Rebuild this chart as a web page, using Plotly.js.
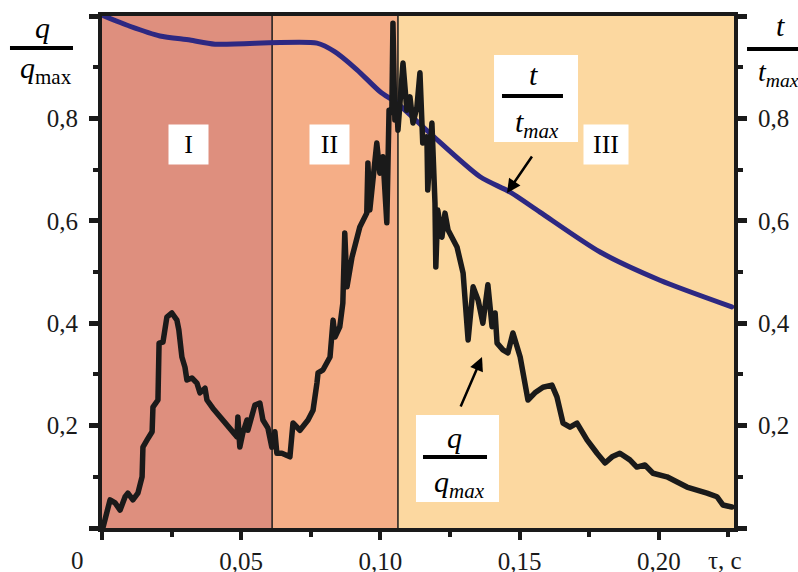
<!DOCTYPE html>
<html>
<head>
<meta charset="utf-8">
<script src="https://cdn.plot.ly/plotly-3.0.1.min.js"></script>
<style>
html,body{margin:0;padding:0;background:#fff;}
#chart{width:798px;height:572px;}
.scatterlayer path.js-line{stroke-linejoin:round;stroke-linecap:round;}
</style>
</head>
<body>
<div id="chart"></div>
<script>
// time, s  (q / q_max curve)
const qTime = [0.0004,0.0018,0.0029,0.0047,0.0065,0.0083,0.0093,0.0111,0.0129,0.0144,0.0147,0.0162,0.0180,0.0183,0.0201,0.0205,0.0219,0.0233,0.0251,0.0269,0.0276,0.0287,0.0298,0.0305,0.0323,0.0341,0.0352,0.0370,0.0377,0.0398,0.0434,0.0467,0.0485,0.0488,0.0495,0.0506,0.0521,0.0524,0.0539,0.0549,0.0567,0.0578,0.0596,0.0610,0.0621,0.0628,0.0646,0.0675,0.0686,0.0711,0.0740,0.0758,0.0772,0.0776,0.0794,0.0819,0.0830,0.0837,0.0854,0.0865,0.0872,0.0880,0.0898,0.0926,0.0951,0.0955,0.0962,0.0973,0.0987,0.0998,0.1009,0.1023,0.1031,0.1041,0.1045,0.1052,0.1059,0.1063,0.1070,0.1081,0.1095,0.1106,0.1117,0.1131,0.1142,0.1152,0.1167,0.1170,0.1185,0.1196,0.1199,0.1206,0.1221,0.1232,0.1243,0.1275,0.1297,0.1315,0.1333,0.1351,0.1368,0.1386,0.1401,0.1412,0.1419,0.1440,0.1458,0.1476,0.1502,0.1530,0.1555,0.1584,0.1616,0.1634,0.1656,0.1681,0.1706,0.1742,0.1778,0.1807,0.1832,0.1860,0.1896,0.1921,0.1950,0.1979,0.2029,0.2101,0.2173,0.2209,0.2230,0.2262];
const qValue = [0.002,0.035,0.055,0.049,0.035,0.061,0.068,0.055,0.068,0.100,0.158,0.172,0.188,0.236,0.250,0.361,0.363,0.412,0.420,0.406,0.387,0.334,0.314,0.289,0.293,0.283,0.264,0.273,0.250,0.234,0.211,0.191,0.178,0.217,0.158,0.186,0.211,0.191,0.217,0.240,0.244,0.211,0.195,0.158,0.188,0.146,0.146,0.139,0.205,0.191,0.211,0.230,0.283,0.303,0.309,0.334,0.406,0.373,0.393,0.439,0.576,0.471,0.529,0.588,0.615,0.713,0.621,0.686,0.752,0.693,0.725,0.596,0.816,0.812,0.986,0.797,0.822,0.777,0.842,0.908,0.816,0.842,0.791,0.822,0.889,0.752,0.764,0.660,0.791,0.635,0.510,0.621,0.568,0.615,0.582,0.549,0.498,0.367,0.471,0.445,0.400,0.475,0.393,0.420,0.361,0.348,0.342,0.381,0.334,0.250,0.264,0.275,0.279,0.256,0.205,0.197,0.205,0.172,0.146,0.127,0.139,0.146,0.133,0.119,0.123,0.107,0.100,0.080,0.068,0.061,0.045,0.041];

// time, s  (t / t_max curve)
const tTime = [0.0007,0.0100,0.0208,0.0316,0.0406,0.0772,0.0837,0.0916,0.0999,0.1059,0.1178,0.1358,0.1466,0.1573,0.1789,0.2004,0.2262];
const tValue = [1.000,0.980,0.961,0.953,0.945,0.947,0.930,0.895,0.852,0.830,0.771,0.686,0.656,0.617,0.539,0.484,0.432];

// stage boundaries, s
const stageBounds = [0, 0.0611, 0.1063, 0.227];
const stageNames = ["I", "II", "III"];
const stageColors = ["#de8f7e", "#f5ae87", "#fcd8a0"];

// ticks
const xTickVals = [0, 0.05, 0.10, 0.15, 0.20];
const xTickText = ["", "0,05", "0,10", "0,15", "0,20"];
const xMinorVals = [0.025, 0.075, 0.125, 0.175, 0.225];
const yTickVals = [0, 0.2, 0.4, 0.6, 0.8, 1.0];
const yTickText = ["", "0,2", "0,4", "0,6", "0,8", ""];
const yMinorVals = [0.1, 0.3, 0.5, 0.7, 0.9];

const ink = "#1a1a1a";
const serif = "Liberation Serif";
const tickFont = {family: serif, size: 25, color: ink};

const traces = [
  {x: tTime, y: tValue, type: "scatter", mode: "lines", yaxis: "y",
   line: {color: "#2d2882", width: 5, shape: "spline", smoothing: 0.7}, hoverinfo: "skip"},
  {x: qTime, y: qValue, type: "scatter", mode: "lines", yaxis: "y2",
   line: {color: ink, width: 5.5}, hoverinfo: "skip"}
];

const shapes = [];
for (let i = 0; i < 3; i++) {
  shapes.push({type: "rect", xref: "x", yref: "y", x0: stageBounds[i], x1: stageBounds[i+1], y0: 0, y1: 1,
    fillcolor: stageColors[i], line: {width: 0}, layer: "below"});
}
for (let i = 1; i < 3; i++) {
  shapes.push({type: "line", xref: "x", yref: "y", x0: stageBounds[i], x1: stageBounds[i], y0: 0, y1: 1,
    line: {color: ink, width: 1.5}, layer: "below"});
}
// label boxes and fraction bars
shapes.push({type: "rect", xref: "paper", yref: "paper", x0: 0.6203, x1: 0.7532, y0: 0.7539, y1: 0.9238, fillcolor: "#fff", line: {width: 0}});
shapes.push({type: "line", xref: "paper", yref: "paper", x0: 0.6329, x1: 0.7294, y0: 0.8438, y1: 0.8438, line: {color: "#000", width: 4}});
shapes.push({type: "rect", xref: "paper", yref: "paper", x0: 0.4968, x1: 0.6282, y0: 0.0508, y1: 0.2207, fillcolor: "#fff", line: {width: 0}});
shapes.push({type: "line", xref: "paper", yref: "paper", x0: 0.5079, x1: 0.6092, y0: 0.1387, y1: 0.1387, line: {color: "#000", width: 4}});
shapes.push({type: "line", xref: "paper", yref: "paper", x0: -0.1456, x1: -0.0459, y0: 0.9375, y1: 0.9375, line: {color: "#000", width: 4}});
shapes.push({type: "line", xref: "paper", yref: "paper", x0: 1.0206, x1: 1.1013, y0: 0.9355, y1: 0.9355, line: {color: "#000", width: 4}});

const annFont = (s) => ({family: serif, size: s, color: "#000"});
const annotations = [];
const stageCenters = [0.1369, 0.36, 0.7975];
const stageBoxW = [39, 39, 44];
for (let i = 0; i < 3; i++) {
  annotations.push({xref: "paper", yref: "paper", x: stageCenters[i], y: 0.749, text: stageNames[i],
    showarrow: false, bgcolor: "#fff", width: stageBoxW[i], height: 39, borderpad: 0,
    font: annFont(26), xanchor: "center", yanchor: "middle"});
}
annotations.push(
  {xref: "paper", yref: "paper", x: 0.682, y: 0.8848, text: "<i>t</i>", showarrow: false, font: annFont(30), xanchor: "center", yanchor: "middle"},
  {xref: "paper", yref: "paper", x: 0.688, y: 0.790, text: "<i>t<sub>max</sub></i>", showarrow: false, font: annFont(30), xanchor: "center", yanchor: "middle"},
  {xref: "paper", yref: "paper", x: 0.5585, y: 0.1777, text: "<i>q</i>", showarrow: false, font: annFont(30), xanchor: "center", yanchor: "middle"},
  {xref: "paper", yref: "paper", x: 0.566, y: 0.086, text: "<i>q<sub>max</sub></i>", showarrow: false, font: annFont(30), xanchor: "center", yanchor: "middle"},
  {xref: "paper", yref: "paper", x: -0.0934, y: 0.9785, text: "<i>q</i>", showarrow: false, font: annFont(30), xanchor: "center", yanchor: "middle"},
  {xref: "paper", yref: "paper", x: -0.088, y: 0.895, text: "<i>q</i><sub>max</sub>", showarrow: false, font: annFont(30), xanchor: "center", yanchor: "middle"},
  {xref: "paper", yref: "paper", x: 1.0728, y: 0.9824, text: "<i>t</i>", showarrow: false, font: annFont(30), xanchor: "center", yanchor: "middle"},
  {xref: "paper", yref: "paper", x: 1.070, y: 0.887, text: "<i>t<sub>max</sub></i>", showarrow: false, font: annFont(28), xanchor: "center", yanchor: "middle"},
  {xref: "paper", yref: "paper", x: -0.038, y: -0.064, text: "0", showarrow: false, font: tickFont, xanchor: "center", yanchor: "middle"},
  {xref: "paper", yref: "paper", x: 0.9858, y: -0.064, text: "τ, c", showarrow: false, font: tickFont, xanchor: "center", yanchor: "middle"},
  {xref: "paper", yref: "paper", x: 0.6408, y: 0.6543, ax: 26, ay: -38, text: "", showarrow: true,
   arrowhead: 2, arrowsize: 1.1, arrowwidth: 2.5, arrowcolor: "#000"},
  {xref: "paper", yref: "paper", x: 0.6013, y: 0.334, ax: -22, ay: 51, text: "", showarrow: true,
   arrowhead: 2, arrowsize: 1.1, arrowwidth: 2.5, arrowcolor: "#000"}
);

const yCommon = {
  range: [0, 1.0], fixedrange: true, tickmode: "array", tickvals: yTickVals, ticktext: yTickText,
  ticks: "outside", ticklen: 9, tickwidth: 5, tickcolor: ink,
  minor: {tickvals: yMinorVals, ticks: "outside", ticklen: 5, tickwidth: 4, tickcolor: ink},
  showline: true, linecolor: ink, linewidth: 4, showgrid: false, zeroline: false,
  tickfont: tickFont, ticklabelstandoff: 6
};

const layout = {
  width: 798, height: 572,
  margin: {l: 102, r: 64, t: 16, b: 44},
  paper_bgcolor: "#fff", plot_bgcolor: "rgba(0,0,0,0)",
  showlegend: false,
  xaxis: {
    range: [0, 0.227], fixedrange: true, tickmode: "array", tickvals: xTickVals, ticktext: xTickText,
    ticks: "outside", ticklen: 8, tickwidth: 4, tickcolor: ink,
    minor: {tickvals: xMinorVals, ticks: "outside", ticklen: 5, tickwidth: 4, tickcolor: ink},
    showline: true, mirror: true, linecolor: ink, linewidth: 4, showgrid: false, zeroline: false,
    tickfont: tickFont, ticklabelstandoff: 0
  },
  yaxis: Object.assign({}, yCommon, {side: "left"}),
  yaxis2: Object.assign({}, yCommon, {side: "right", overlaying: "y"}),
  shapes: shapes,
  annotations: annotations
};

Plotly.newPlot("chart", traces, layout, {staticPlot: true, displayModeBar: false});
</script>
</body>
</html>
